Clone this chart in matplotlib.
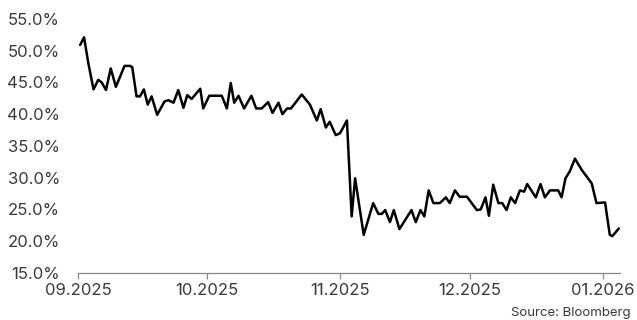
import pandas as pd
import matplotlib
matplotlib.use("Agg")
import matplotlib.pyplot as plt
import matplotlib.dates as mdates
from matplotlib.ticker import FuncFormatter

START = pd.Timestamp("2025-09-01")
END = pd.Timestamp("2026-01-05")

# days after START, share in %
days = [0.5, 1.4, 2.4, 3.6, 4.7, 5.5, 6.5, 7.6, 8.8, 10.8, 12.1, 12.6, 13.6,
        14.4, 15.3, 16.2, 17.1, 18.4, 20.1, 21.0, 22.2, 23.3, 24.5, 25.4,
        26.4, 28.4, 29.1, 30.5, 33.4, 34.6, 35.5, 36.3, 37.3, 38.6, 40.3,
        41.4, 42.7, 44.2, 45.2, 46.6, 47.5, 48.6, 49.5, 52.0, 53.9, 55.5,
        56.4, 57.6, 58.5, 59.9, 60.9, 62.5, 63.6, 64.4, 66.4, 68.6, 69.8,
        70.6, 71.4, 72.5, 73.4, 74.7, 77.5, 78.5, 79.6, 80.5, 81.5, 82.6,
        84.1, 85.5, 86.4, 87.6, 88.7, 90.4, 92.7, 93.6, 94.7, 95.5, 96.5,
        97.7, 98.6, 99.6, 100.6, 101.6, 102.7, 103.7, 104.4, 106.4, 107.5,
        108.5, 109.7, 111.6, 112.4, 113.3, 114.3, 115.5, 117.1, 119.4, 120.5,
        122.5, 123.6, 124.2, 125.7]
share = [50.9, 52.1, 48.0, 43.9, 45.4, 45.0, 43.8, 47.2, 44.3, 47.6, 47.6, 47.4, 42.8,
         42.8, 43.9, 41.5, 42.8, 39.9, 42.0, 42.2, 41.8, 43.8, 41.0, 43.0,
         42.4, 44.0, 40.9, 42.9, 42.9, 40.9, 44.9, 41.8, 42.9, 40.9, 42.9,
         40.9, 40.9, 41.9, 40.2, 41.8, 40.0, 40.9, 40.9, 43.1, 41.5, 39.0,
         40.8, 37.9, 38.8, 36.7, 37.0, 39.0, 23.9, 29.9, 21.0, 26.0, 24.3,
         24.3, 24.9, 23.0, 24.9, 21.9, 24.9, 23.0, 24.9, 23.9, 28.0, 26.0,
         26.0, 26.9, 26.0, 28.0, 27.0, 27.0, 24.9, 25.0, 26.9, 24.0, 28.9,
         26.0, 26.0, 24.9, 26.9, 26.0, 28.0, 27.8, 29.0, 26.9, 29.0,
         26.9, 28.0, 28.0, 26.9, 29.9, 31.0, 33.0, 31.2, 29.1, 26.0,
         26.1, 21.0, 20.8, 22.0]

tick_dates = ["2025-09-01", "2025-10-01", "2025-11-01", "2025-12-01", "2026-01-01"]
y_ticks = [15, 20, 25, 30, 35, 40, 45, 50, 55]

plt.rcParams["font.family"] = ["Inter", "DejaVu Sans"]

dates = START + pd.to_timedelta(days, unit="D")

fig = plt.figure(figsize=(6.37, 3.2), dpi=100)
ax = fig.add_axes([0.1225, 0.147, 0.851, 0.794])

ax.plot(dates, share, color="black", lw=1.8, solid_joinstyle="round",
        solid_capstyle="round")

ax.set_xlim(START, END)
ax.set_ylim(15, 55)
ax.set_yticks(y_ticks)
ax.yaxis.set_major_formatter(FuncFormatter(lambda v, _: f"{v:.1f}%"))
ax.set_xticks(pd.to_datetime(tick_dates))
ax.xaxis.set_major_formatter(mdates.DateFormatter("%m.%Y"))

for side in ["top", "right", "left"]:
    ax.spines[side].set_visible(False)
ax.spines["bottom"].set_color("#8a8a8a")
ax.spines["bottom"].set_linewidth(0.9)

ax.tick_params(axis="y", length=0, pad=13, labelsize=12, labelcolor="#3a3a3a")
ax.tick_params(axis="x", length=4.3, width=0.9, color="#8a8a8a", pad=3,
               labelsize=12, labelcolor="#3a3a3a")

fig.text(0.99, 0.04, "Source: Bloomberg", ha="right", va="top",
         fontsize=9.5, color="#3a3a3a")

fig.savefig("out.png", dpi=100)
